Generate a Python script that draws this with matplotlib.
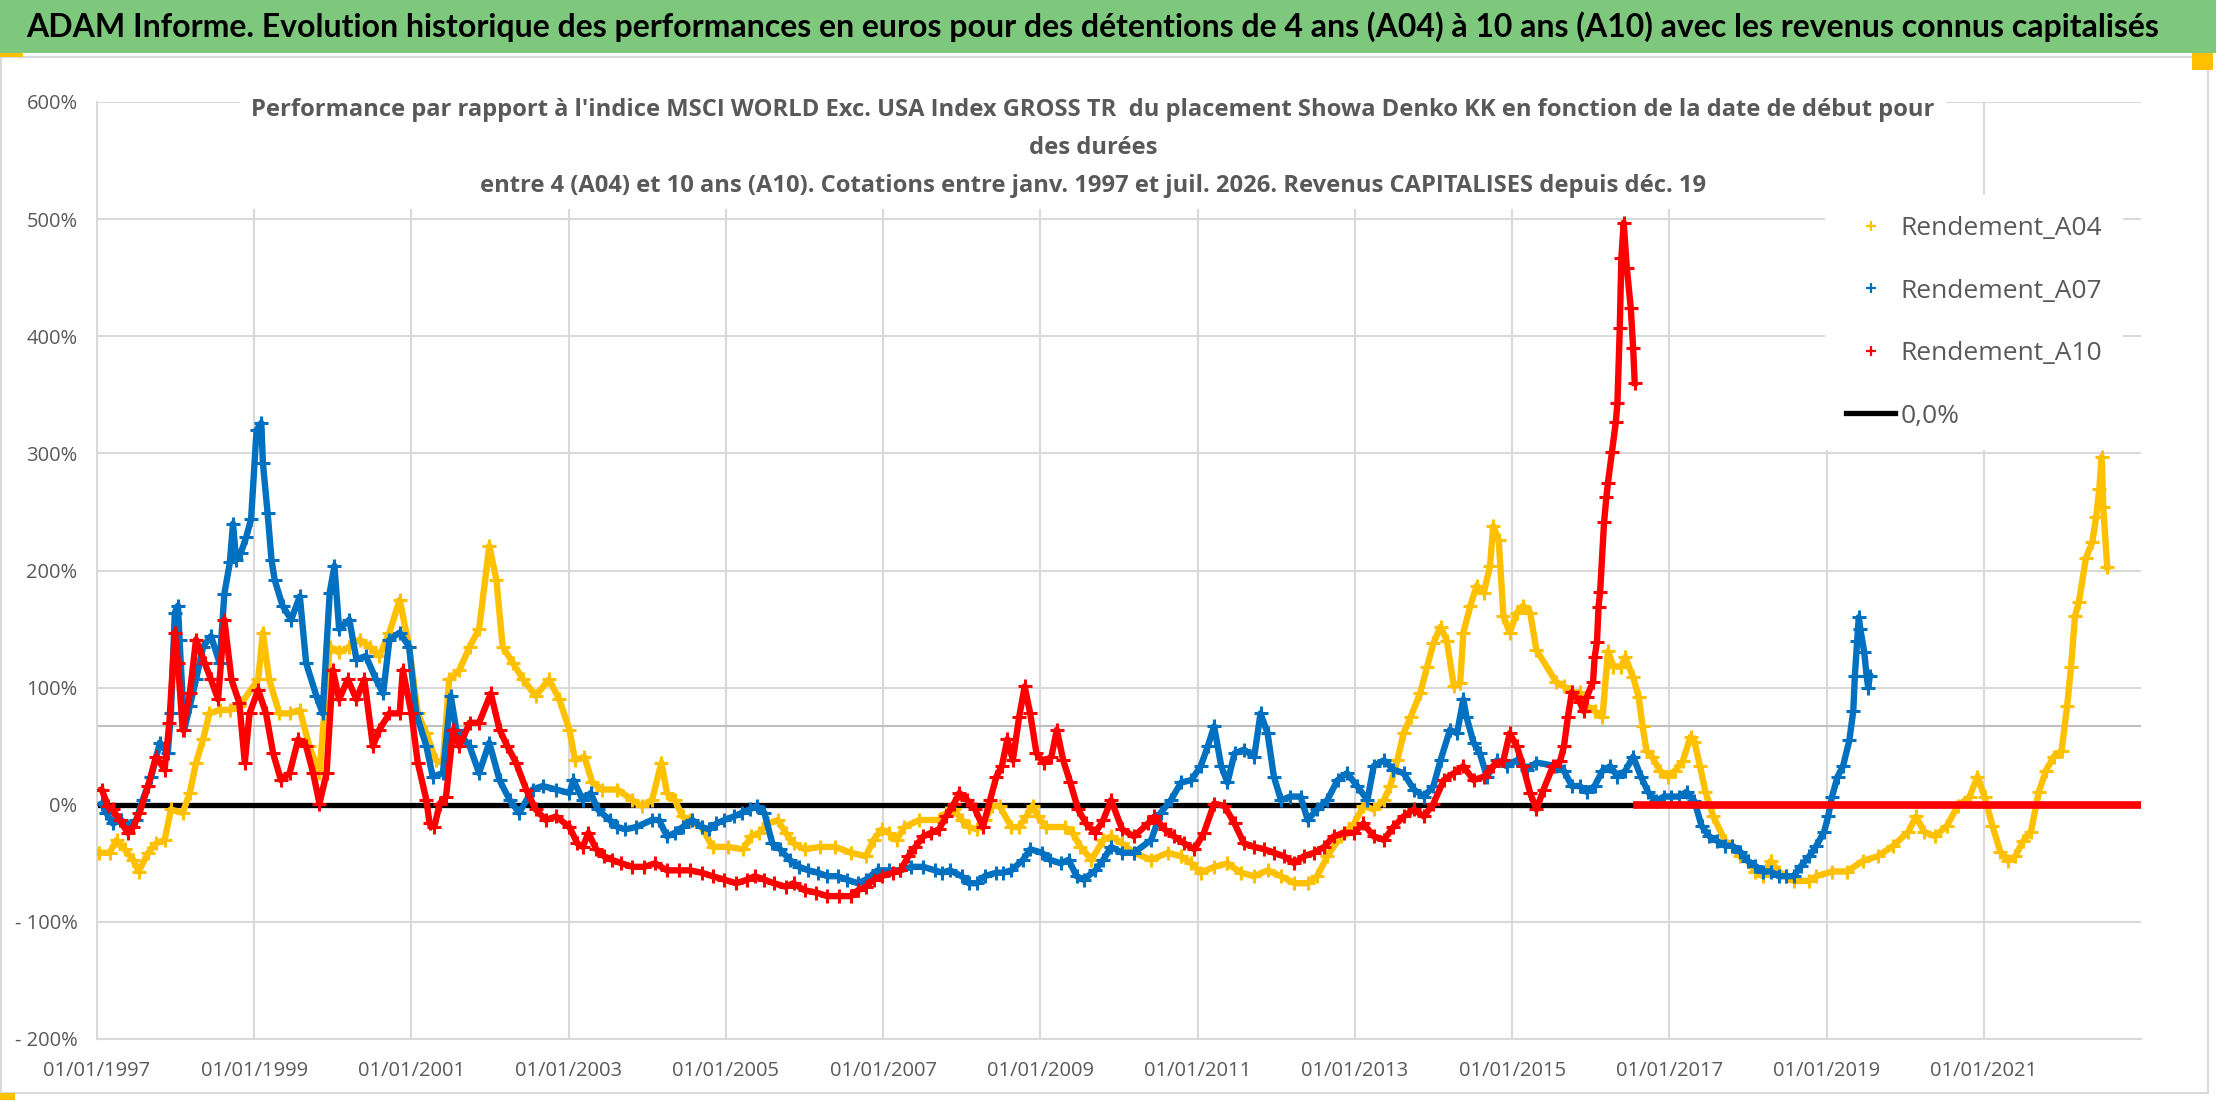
import matplotlib
matplotlib.use('Agg')
import matplotlib.pyplot as plt
from matplotlib import font_manager
from matplotlib.lines import Line2D
from matplotlib.patches import Rectangle

# ---- data (decimal years, performance in %) ----
a04_years = [1997.03, 1997.16, 1997.25, 1997.35, 1997.46, 1997.53, 1997.65, 1997.75, 1997.86, 1997.94,
             1998.09, 1998.18, 1998.26, 1998.35, 1998.43, 1998.56, 1998.69, 1998.81,
             1999.05, 1999.11, 1999.19, 1999.32, 1999.45, 1999.58, 1999.70, 1999.83, 1999.96,
             2000.08, 2000.21, 2000.34, 2000.47, 2000.59, 2000.72, 2000.85, 2000.97,
             2001.08, 2001.19, 2001.31, 2001.40, 2001.48, 2001.61, 2001.74, 2001.86, 2001.99,
             2002.08, 2002.16, 2002.29, 2002.42, 2002.58, 2002.75, 2002.88, 2003.01,
             2003.08, 2003.20, 2003.30, 2003.42, 2003.62, 2003.81, 2003.93,
             2004.06, 2004.18, 2004.25, 2004.35, 2004.45, 2004.54, 2004.69, 2004.83,
             2005.03, 2005.22, 2005.32, 2005.42, 2005.54, 2005.66, 2005.76, 2005.86,
             2006.00, 2006.20, 2006.39, 2006.59, 2006.78, 2006.88, 2006.98,
             2007.07, 2007.17, 2007.27, 2007.46, 2007.71, 2007.80, 2007.90,
             2008.00, 2008.09, 2008.19, 2008.29, 2008.39, 2008.48, 2008.63, 2008.73, 2008.82, 2008.90, 2008.97,
             2009.07, 2009.31, 2009.41, 2009.51, 2009.65, 2009.80, 2009.90, 2010.04, 2010.19,
             2010.41, 2010.62, 2010.79, 2010.92,
             2011.04, 2011.21, 2011.38, 2011.55, 2011.72, 2011.89,
             2012.06, 2012.23, 2012.40, 2012.52, 2012.65, 2012.82, 2012.99,
             2013.11, 2013.24, 2013.37, 2013.45, 2013.54, 2013.62, 2013.71, 2013.83, 2013.92,
             2014.00, 2014.09, 2014.17, 2014.26, 2014.34, 2014.38, 2014.47, 2014.55, 2014.64, 2014.72,
             2014.76, 2014.83, 2014.89, 2014.97,
             2015.06, 2015.14, 2015.23, 2015.31,
             2015.56, 2015.66, 2015.76, 2015.86, 2015.95,
             2016.05, 2016.15, 2016.22, 2016.29, 2016.39, 2016.44, 2016.54, 2016.61, 2016.66, 2016.71,
             2016.78, 2016.88, 2016.98,
             2017.07, 2017.17, 2017.27, 2017.32, 2017.39, 2017.46, 2017.56, 2017.71, 2017.80, 2017.90,
             2018.00, 2018.09, 2018.19, 2018.29, 2018.39, 2018.48, 2018.58, 2018.78, 2018.87,
             2019.07, 2019.26, 2019.46, 2019.65, 2019.85,
             2020.04, 2020.14, 2020.24, 2020.38, 2020.53, 2020.67, 2020.82, 2020.92,
             2021.01, 2021.11, 2021.21, 2021.31, 2021.40, 2021.50, 2021.60, 2021.70, 2021.79, 2021.89, 2021.99,
             2022.06, 2022.11, 2022.16, 2022.21, 2022.30, 2022.38, 2022.43, 2022.47, 2022.50, 2022.52, 2022.57]
a04_vals = [-41, -41, -30, -38, -47, -57, -41, -33, -30, -4,
            -7, 10, 36, 56, 78, 81, 81, 84,
            107, 147, 107, 78, 78, 81, 50, 27, 135,
            130, 135, 141, 135, 127, 147, 175, 135,
            78, 61, 38, 36, 107, 115, 135, 150, 221,
            192, 135, 121, 107, 93, 107, 90, 64,
            38, 41, 19, 13, 13, 4, -1,
            4, 36, 10, 4, -10, -13, -19, -36,
            -36, -38, -27, -24, -16, -13, -24, -33,
            -38, -36, -36, -41, -44, -30, -21,
            -24, -30, -19, -13, -13, -7, -4,
            -13, -19, -21, -13, -1, -1, -19, -19, -10, -1, -10,
            -19, -19, -24, -36, -47, -30, -27, -33, -41,
            -47, -41, -44, -50,
            -58, -53, -50, -58, -61, -56,
            -61, -67, -67, -61, -44, -27, -16,
            -1, -4, 4, 16, 38, 61, 75, 95, 118,
            138, 152, 140, 101, 104, 147, 170, 187, 181, 204,
            238, 226, 161, 147,
            164, 170, 164, 132,
            105, 101, 96, 96, 84,
            80, 75, 131, 118, 118, 126, 109, 92, 67, 46,
            41, 29, 24,
            29, 37, 58, 54, 33, 11, -10, -31, -35, -44,
            -48, -57, -61, -48, -57, -61, -65, -65, -61,
            -57, -57, -48, -44, -35,
            -23, -10, -23, -27, -18, -1, 7, 24,
            7, -18, -40, -48, -44, -31, -23, 11, 29, 41, 46,
            84, 118, 161, 173, 211, 224, 246, 270, 297, 254, 203]

a07_years = [1997.06, 1997.12, 1997.20, 1997.31, 1997.39, 1997.50, 1997.58, 1997.69, 1997.80, 1997.90, 1997.94, 1997.99,
             1998.03, 1998.05, 1998.11, 1998.18, 1998.26, 1998.35, 1998.45, 1998.56, 1998.62, 1998.69, 1998.73,
             1998.77, 1998.83, 1998.90, 1998.96,
             1999.03, 1999.09, 1999.11, 1999.17, 1999.22, 1999.26, 1999.36, 1999.47, 1999.58, 1999.66, 1999.79,
             1999.87, 1999.96,
             2000.02, 2000.08, 2000.21, 2000.30, 2000.42, 2000.55, 2000.64, 2000.72, 2000.85, 2000.97,
             2001.06, 2001.19, 2001.27, 2001.40, 2001.50, 2001.57, 2001.74, 2001.86, 2001.99,
             2002.12, 2002.25, 2002.37, 2002.54, 2002.67, 2002.84, 2003.01,
             2003.06, 2003.18, 2003.28, 2003.37, 2003.52, 2003.62, 2003.72, 2003.86,
             2004.06, 2004.15, 2004.25, 2004.35, 2004.45, 2004.57, 2004.69, 2004.79, 2004.88, 2004.98,
             2005.10, 2005.20, 2005.30, 2005.39, 2005.49, 2005.59, 2005.69, 2005.81, 2005.93,
             2006.05, 2006.17, 2006.29, 2006.42, 2006.54, 2006.68, 2006.78, 2006.93,
             2007.07, 2007.22, 2007.36, 2007.51, 2007.66, 2007.75, 2007.85,
             2008.00, 2008.09, 2008.19, 2008.29, 2008.44, 2008.53, 2008.63, 2008.78, 2008.87,
             2009.02, 2009.12, 2009.26, 2009.36, 2009.46, 2009.55, 2009.70, 2009.80, 2009.90,
             2010.04, 2010.19,
             2010.41, 2010.53, 2010.66, 2010.79, 2010.92,
             2011.04, 2011.13, 2011.21, 2011.30, 2011.38, 2011.47, 2011.59, 2011.72, 2011.80, 2011.89, 2011.97,
             2012.06, 2012.18, 2012.31, 2012.40, 2012.52, 2012.65, 2012.78, 2012.90,
             2013.03, 2013.16, 2013.24, 2013.37, 2013.49, 2013.62, 2013.75, 2013.88,
             2014.00, 2014.09, 2014.21, 2014.30, 2014.38, 2014.42, 2014.51, 2014.59, 2014.68, 2014.81, 2014.93,
             2015.06, 2015.19, 2015.31,
             2015.56, 2015.66, 2015.76, 2015.86, 2015.95,
             2016.05, 2016.15, 2016.25, 2016.34, 2016.44, 2016.54, 2016.64, 2016.73, 2016.83, 2016.93,
             2017.02, 2017.12, 2017.22, 2017.32, 2017.41, 2017.51, 2017.61, 2017.71, 2017.80, 2017.90,
             2018.00, 2018.09, 2018.19, 2018.29, 2018.39, 2018.48, 2018.58, 2018.68, 2018.78, 2018.87, 2018.97,
             2019.02, 2019.07, 2019.14, 2019.21, 2019.29, 2019.34, 2019.36, 2019.39, 2019.41, 2019.43, 2019.48,
             2019.51, 2019.53, 2019.55]
a07_vals = [1, -7, -16, -13, -19, -13, 4, 24, 53, 44, 78, 164,
            170, 141, 64, 84, 107, 135, 144, 121, 180, 207, 240,
            209, 215, 229, 244,
            320, 326, 292, 249, 209, 192, 170, 158, 178, 121, 93,
            78, 181,
            204, 150, 158, 124, 127, 107, 95, 141, 147, 135,
            78, 50, 24, 27, 93, 64, 50, 27, 53,
            21, 4, -7, 13, 16, 13, 10,
            21, 4, 10, -4, -13, -19, -21, -19,
            -13, -13, -27, -24, -19, -13, -19, -21, -16, -13,
            -10, -7, -4, -1, -7, -33, -38, -47, -53,
            -56, -58, -61, -61, -64, -67, -64, -56,
            -56, -56, -53, -53, -56, -58, -56,
            -61, -67, -67, -61, -58, -58, -56, -47, -38,
            -41, -47, -50, -47, -61, -64, -56, -47, -36,
            -41, -41,
            -30, -7, 4, 19, 21,
            33, 50, 67, 33, 19, 44, 47, 41, 78, 61, 24,
            4, 7, 7, -13, -4, 4, 21, 27,
            16, 4, 33, 38, 30, 27, 13, 7,
            16, 38, 64, 61, 90, 75, 53, 44, 24, 38, 33,
            38, 30, 36,
            33, 29, 16, 16, 11,
            16, 29, 33, 24, 29, 41, 24, 11, 3, 7,
            7, 7, 11, 3, -18, -27, -31, -35, -35, -40,
            -48, -52, -57, -57, -61, -61, -61, -52, -44, -35, -23,
            -10, 7, 24, 33, 55, 80, 110, 140, 160, 150, 130,
            110, 100, 110]

a10_years = [1997.06, 1997.14, 1997.20, 1997.29, 1997.39, 1997.46, 1997.54, 1997.65, 1997.75, 1997.86, 1997.92, 1997.99,
             1998.03, 1998.09, 1998.18, 1998.26, 1998.37, 1998.45, 1998.54, 1998.62, 1998.71, 1998.81, 1998.88, 1998.94,
             1999.05, 1999.15, 1999.24, 1999.34, 1999.45, 1999.56, 1999.66, 1999.75, 1999.83, 1999.92,
             2000.00, 2000.08, 2000.19, 2000.30, 2000.40, 2000.51, 2000.59, 2000.72, 2000.85, 2000.89,
             2001.00, 2001.08, 2001.19, 2001.23, 2001.29, 2001.36, 2001.44, 2001.53, 2001.61, 2001.74, 2001.86,
             2002.01, 2002.12, 2002.22, 2002.33, 2002.46, 2002.58, 2002.71, 2002.84, 2003.01,
             2003.11, 2003.18, 2003.25, 2003.35, 2003.45, 2003.55, 2003.67, 2003.81, 2003.96,
             2004.10, 2004.25, 2004.40, 2004.54, 2004.69, 2004.83, 2004.98,
             2005.13, 2005.27, 2005.37, 2005.49, 2005.61, 2005.76, 2005.86,
             2006.00, 2006.15, 2006.29, 2006.44, 2006.59, 2006.68, 2006.78, 2006.88, 2006.98,
             2007.12, 2007.22, 2007.32, 2007.41, 2007.51, 2007.61, 2007.71, 2007.80, 2007.90, 2007.97,
             2008.07, 2008.17, 2008.27, 2008.36, 2008.44, 2008.51, 2008.58, 2008.65, 2008.73, 2008.80, 2008.87, 2008.95,
             2009.04, 2009.14, 2009.21, 2009.29, 2009.38, 2009.48, 2009.58, 2009.70, 2009.80, 2009.90,
             2010.04, 2010.19,
             2010.37, 2010.45, 2010.58, 2010.70, 2010.83, 2010.96,
             2011.08, 2011.21, 2011.34, 2011.47, 2011.59, 2011.72, 2011.85, 2011.97,
             2012.10, 2012.23, 2012.35, 2012.48, 2012.61, 2012.73, 2012.86, 2012.99,
             2013.11, 2013.24, 2013.37, 2013.49, 2013.62, 2013.75, 2013.88,
             2014.00, 2014.13, 2014.26, 2014.38, 2014.51, 2014.64, 2014.76, 2014.89, 2014.97,
             2015.06, 2015.14, 2015.23, 2015.31, 2015.40,
             2015.52, 2015.61, 2015.66, 2015.71, 2015.76, 2015.86, 2015.91, 2015.95,
             2016.03, 2016.05, 2016.08, 2016.10, 2016.12, 2016.17, 2016.20, 2016.22, 2016.27, 2016.32, 2016.34,
             2016.37, 2016.39, 2016.42, 2016.46, 2016.51, 2016.54, 2016.56]
a10_vals = [13, -1, -4, -13, -24, -19, -7, 16, 41, 30, 70, 147,
            121, 64, 95, 141, 121, 107, 90, 158, 107, 87, 36, 78,
            98, 78, 44, 21, 27, 56, 50, 27, 1, 27,
            115, 90, 107, 90, 107, 50, 64, 78, 78, 115,
            78, 36, 4, -16, -19, 1, 7, 64, 50, 70, 70,
            95, 64, 50, 36, 13, -4, -13, -10, -19,
            -33, -36, -24, -38, -44, -47, -50, -53, -53,
            -50, -56, -56, -56, -58, -61, -64,
            -67, -64, -61, -64, -67, -70, -67,
            -73, -75, -78, -78, -78, -73, -70, -64, -61,
            -58, -56, -44, -36, -27, -24, -21, -10, 1, 10,
            4, -4, -19, 4, 24, 33, 56, 38, 75, 101, 78, 44,
            36, 41, 64, 38, 19, -4, -16, -24, -13, 4,
            -21, -27,
            -16, -10, -21, -27, -33, -38,
            -24, 1, -1, -16, -33, -36, -38, -41,
            -44, -50, -44, -41, -36, -27, -24, -24,
            -16, -27, -30, -19, -10, -4, -10,
            1, 21, 27, 33, 21, 24, 33, 38, 61,
            50, 33, 10, -4, 13,
            33, 37, 50, 75, 96, 88, 80, 92,
            105, 126, 139, 169, 182, 241, 263, 275, 301, 327, 343,
            407, 467, 497, 458, 424, 390, 360]
# after mid-2016 the A10 series sits at 0 until the end of the axis
a10_zero_years = [2016.59, 2017.0, 2018.0, 2019.0, 2020.0, 2021.0, 2022.0, 2023.0]
a10_zero_vals = [0, 0, 0, 0, 0, 0, 0, 0]

zero_level = 0.0
ref_level = 67.0

tick_years = [1997, 1999, 2001, 2003, 2005, 2007, 2009, 2011, 2013, 2015, 2017, 2019, 2021]
tick_labels = ['01/01/%d' % y for y in tick_years]
y_ticks = [-200, -100, 0, 100, 200, 300, 400, 500, 600]
series_names = ['Rendement_A04', 'Rendement_A07', 'Rendement_A10', '0,0%']

banner = ("ADAM Informe. Evolution historique des performances en euros pour des détentions "
          "de 4 ans (A04) à 10 ans (A10) avec les revenus connus capitalisés")
subtitle = ("Performance par rapport à l'indice MSCI WORLD Exc. USA Index GROSS TR  du placement "
            "Showa Denko KK en fonction de la date de début pour\ndes durées\n"
            "entre 4 (A04) et 10 ans (A10). Cotations entre janv. 1997 et juil. 2026. "
            "Revenus CAPITALISES depuis déc. 19")

YELLOW, BLUE, RED = '#FFC000', '#0070C0', '#FF0000'
GRAY_TXT, GRID = '#595959', '#D9D9D9'

installed = {f.name for f in font_manager.fontManager.ttflist}


def pick_font(*names):
    for n in names:
        if n in installed:
            return n
    return 'DejaVu Sans'


TITLE_FONT = pick_font('Lato', 'Open Sans')
TEXT_FONT = pick_font('Open Sans', 'Noto Sans')
plt.rcParams['font.family'] = [TEXT_FONT, 'DejaVu Sans']

W, H = 2216, 1102
fig = plt.figure(figsize=(W / 100, H / 100), dpi=100)


def px_rect(x0, y0, w, h, **kw):
    # rectangle given in pixel units measured from the top-left corner
    fig.add_artist(Rectangle((x0 / W, 1 - (y0 + h) / H), w / W, h / H,
                             transform=fig.transFigure, **kw))


# green banner + chart frame + the little orange selection handles
px_rect(0, 0, W, 53, facecolor='#7EC87E', edgecolor='none')
px_rect(1, 57, 2207, 1036, facecolor='none', edgecolor=GRID, lw=1.5)
for hx, hy, hw, hh in [(0, 53, 23, 4), (2192, 53, 21, 17), (0, 1093, 15, 7)]:
    px_rect(hx, hy, hw, hh, facecolor='#FFC000', edgecolor='none')

fig.text(1093 / W, 1 - 27 / H, banner, ha='center', va='center', fontsize=23,
         fontweight='bold', family=[TITLE_FONT, 'DejaVu Sans'], color='black')

ax = fig.add_axes([97 / W, 1 - 1039 / H, (2141 - 97) / W, (1039 - 102) / H])
ax.set_xlim(1997, 2023)
ax.set_ylim(-200, 600)
ax.set_xticks(tick_years)
ax.set_xticklabels(tick_labels)
ax.set_yticks(y_ticks)
ax.set_yticklabels(['%d%%' % v if v >= 0 else '- %d%%' % -v for v in y_ticks])
ax.grid(True, color=GRID, lw=1.5)
ax.set_axisbelow(True)
for s in ['top', 'right']:
    ax.spines[s].set_visible(False)
for s in ['left', 'bottom']:
    ax.spines[s].set_color(GRID)
    ax.spines[s].set_linewidth(1.5)
ax.tick_params(axis='both', length=0, labelsize=14.5, labelcolor=GRAY_TXT)
ax.tick_params(axis='x', pad=16)
ax.tick_params(axis='y', pad=14)

ax.axhline(ref_level, color='#BFBFBF', lw=1.5, zorder=1)
ax.axhline(zero_level, color='black', lw=3.8, zorder=2)

mk = dict(marker='+', ms=10, mew=2.2, lw=4.6)
ax.plot(a04_years, a04_vals, color=YELLOW, zorder=3, **mk)
ax.plot(a07_years, a07_vals, color=BLUE, zorder=3.2, **mk)
ax.plot(a10_years, a10_vals, color=RED, zorder=3.4, **mk)
ax.plot(a10_zero_years, a10_zero_vals, color=RED, lw=5.5, zorder=3.4)

handles = [Line2D([], [], ls='none', marker='+', ms=7, mew=1.6, color=c) for c in (YELLOW, BLUE, RED)]
handles.append(Line2D([], [], color='black', lw=3.8))
leg = ax.legend(handles, series_names, loc='upper left', bbox_to_anchor=(1825 / W, 1 - 195 / H),
                bbox_transform=fig.transFigure, frameon=True, facecolor='white', edgecolor='none',
                framealpha=1, fancybox=False, fontsize=19, labelcolor=GRAY_TXT,
                handlelength=1.86, handletextpad=0.19, labelspacing=1.42, borderpad=0.8, borderaxespad=0)
leg.set_zorder(10)

fig.text(1093 / W, 1 - 148 / H, subtitle, ha='center', va='center', multialignment='center',
         fontsize=17.1, fontweight='bold', color=GRAY_TXT, linespacing=1.75,
         bbox=dict(facecolor='white', edgecolor='none', pad=8))

fig.savefig('out.png', dpi=100)
